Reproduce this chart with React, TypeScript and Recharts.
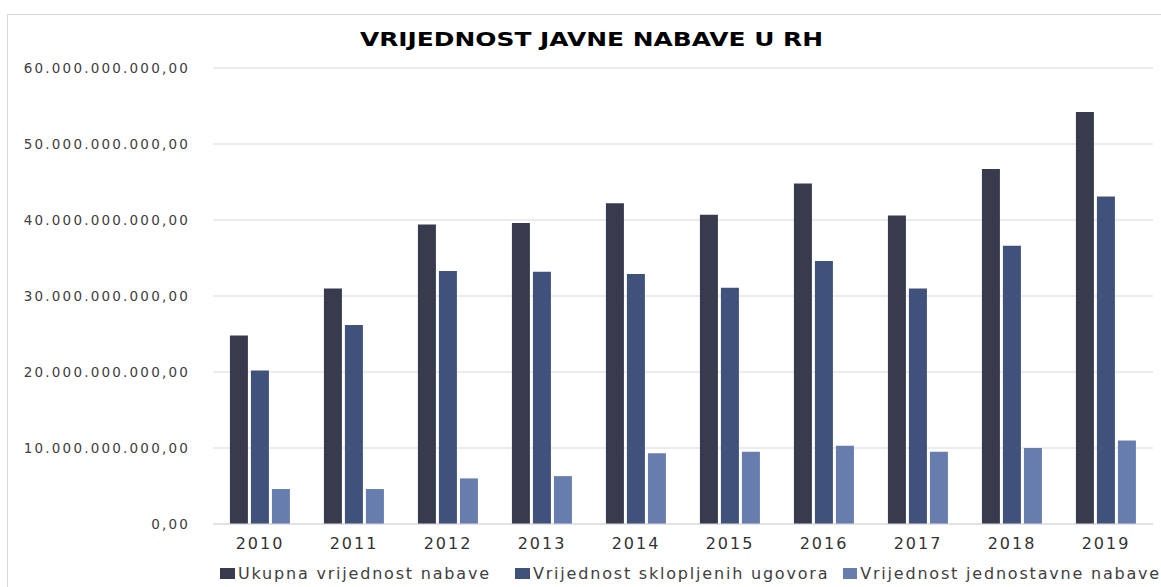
import React from 'react';
import { BarChart, Bar, XAxis, YAxis, CartesianGrid, Legend } from 'recharts';

const years = ['2010', '2011', '2012', '2013', '2014', '2015', '2016', '2017', '2018', '2019'];
const ukupna = [24.8e9, 31.0e9, 39.4e9, 39.6e9, 42.2e9, 40.7e9, 44.8e9, 40.6e9, 46.7e9, 54.2e9];
const sklopljeni = [20.2e9, 26.2e9, 33.3e9, 33.2e9, 32.9e9, 31.1e9, 34.6e9, 31.0e9, 36.6e9, 43.1e9];
const jednostavna = [4.6e9, 4.6e9, 6.0e9, 6.3e9, 9.3e9, 9.5e9, 10.3e9, 9.5e9, 10.0e9, 11.0e9];
const yTicks = [0, 10e9, 20e9, 30e9, 40e9, 50e9, 60e9];

const SERIES = [
  { key: 'ukupna', name: 'Ukupna vrijednost nabave', color: '#383b4e', width: 295 },
  { key: 'sklopljeni', name: 'Vrijednost sklopljenih ugovora', color: '#40527b', width: 328 },
  { key: 'jednostavna', name: 'Vrijednost jednostavne nabave', color: '#667dad', width: 318 },
];

const data = years.map((year, i) => ({
  year,
  ukupna: ukupna[i],
  sklopljeni: sklopljeni[i],
  jednostavna: jednostavna[i],
}));

const FONT = '"DejaVu Sans", sans-serif';

const formatHr = (v: number) => {
  if (v === 0) return '0,00';
  const s = Math.round(v).toString().replace(/\B(?=(\d{3})+(?!\d))/g, '.');
  return `${s},00`;
};

const LegendContent = () => (
  <div style={{ display: 'flex', fontFamily: FONT, fontSize: 16, color: '#404040', paddingLeft: 220 }}>
    {SERIES.map((s) => (
      <div key={s.key} style={{ display: 'flex', alignItems: 'center', width: s.width, whiteSpace: 'nowrap' }}>
        <span style={{ width: 15, height: 11, background: s.color, display: 'inline-block', marginRight: 3 }} />
        <span style={{ letterSpacing: 1.8 }}>{s.name}</span>
      </div>
    ))}
  </div>
);

export default function App() {
  return (
    <div style={{ position: 'absolute', left: 0, top: 0, width: 1161, height: 587, background: '#fff', overflow: 'hidden' }}>
      <div
        style={{
          position: 'absolute',
          left: 7,
          top: 14,
          width: 1154,
          height: 573,
          borderTop: '1px solid #d9d9d9',
          borderLeft: '1px solid #d9d9d9',
        }}
      />
      <div
        style={{
          position: 'absolute',
          left: 0,
          width: 1183,
          top: 28,
          textAlign: 'center',
          fontFamily: FONT,
          fontWeight: 'bold',
          fontSize: 19,
          color: '#000',
          transform: 'scaleX(1.31)',
          transformOrigin: '591.5px 0',
        }}
      >
        VRIJEDNOST JAVNE NABAVE U RH
      </div>
      <BarChart
        width={1161}
        height={587}
        data={data}
        margin={{ top: 68, right: 8, left: 0, bottom: 33 }}
        barCategoryGap="18%"
        barGap={3}
      >
        <CartesianGrid vertical={false} stroke="#d9d9d9" />
        <XAxis
          dataKey="year"
          axisLine={{ stroke: '#d9d9d9' }}
          tickLine={false}
          height={30}
          tickMargin={8}
          tick={{ fontFamily: FONT, fontSize: 16, fill: '#333', letterSpacing: 2 }}
        />
        <YAxis
          width={213}
          domain={[0, 60e9]}
          ticks={yTicks}
          axisLine={false}
          tickLine={false}
          tickMargin={17}
          tickFormatter={formatHr}
          tick={{ fontFamily: FONT, fontSize: 13.5, fill: '#404040', letterSpacing: 2.2 }}
        />
        <Legend
          verticalAlign="middle"
          layout="horizontal"
          content={<LegendContent />}
          wrapperStyle={{ top: 564, left: 0, width: 1161 }}
        />
        {SERIES.map((s) => (
          <Bar key={s.key} dataKey={s.key} name={s.name} fill={s.color} isAnimationActive={false} />
        ))}
      </BarChart>
    </div>
  );
}
